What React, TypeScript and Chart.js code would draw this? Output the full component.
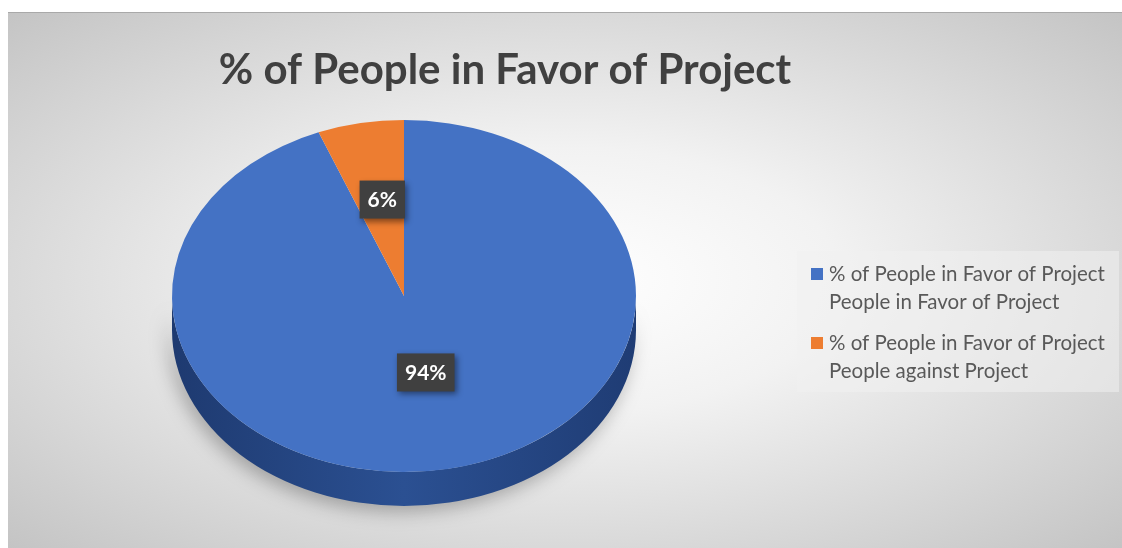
import React, { useEffect, useRef } from "react";
import { Chart, registerables } from "chart.js";

Chart.register(...registerables);

const seriesName = "% of People in Favor of Project";
const categories = ["People in Favor of Project", "People against Project"];
const values = [0.94, 0.06];
const sliceColors = ["#4472C4", "#ED7D31"];
const sideColors = [
  ["#1E3A70", "#2B5092", "#1F3C74"],
  ["#9C4A14", "#C0611F", "#9C4A14"],
];
const titleText = "% of People in Favor of Project";

const W = 1114;
const H = 536;
const SQUASH = 176 / 232;
const DEPTH = 34;

const piePlugin = {
  id: "pie3d",
  beforeDatasetsDraw(chart: any) {
    const ctx = chart.ctx;
    const meta = chart.getDatasetMeta(0);
    const arcs = meta.data;
    if (!arcs.length) return;
    const cx = arcs[0].x;
    const cy = arcs[0].y;
    ctx.save();
    ctx.translate(cx, cy);
    ctx.scale(1, SQUASH);
    ctx.translate(-cx, -cy);
    const d = DEPTH / SQUASH;
    arcs.forEach((arc: any, i: number) => {
      const r = arc.outerRadius;
      let a = arc.startAngle;
      let b = arc.endAngle;
      const TWO = Math.PI * 2;
      while (a < 0) { a += TWO; b += TWO; }
      while (a >= TWO) { a -= TWO; b -= TWO; }
      const ranges: [number, number][] = [];
      const push = (s: number, e: number) => {
        const s2 = Math.max(s, 0), e2 = Math.min(e, Math.PI);
        if (e2 > s2) ranges.push([s2, e2]);
      };
      push(a, b);
      push(a - TWO, b - TWO);
      push(a + TWO, b + TWO);
      ranges.forEach(([s, e]) => {
        ctx.save();
        const g = ctx.createLinearGradient(cx - r, 0, cx + r, 0);
        g.addColorStop(0, sideColors[i][0]);
        g.addColorStop(0.5, sideColors[i][1]);
        g.addColorStop(1, sideColors[i][2]);
        ctx.fillStyle = g;
        ctx.shadowColor = "rgba(0,0,0,0.28)";
        ctx.shadowBlur = 18;
        ctx.shadowOffsetX = -4;
        ctx.shadowOffsetY = 6;
        ctx.beginPath();
        ctx.arc(cx, cy + d, r, s, e);
        ctx.arc(cx, cy, r, e, s, true);
        ctx.closePath();
        ctx.fill();
        ctx.restore();
      });
    });
  },
  afterDatasetsDraw(chart: any) {
    const ctx = chart.ctx;
    ctx.restore();
    const meta = chart.getDatasetMeta(0);
    const arcs = meta.data;
    const total = values.reduce((s, v) => s + v, 0);
    arcs.forEach((arc: any, i: number) => {
      const p = arc.getCenterPoint();
      const x = p.x;
      const y = arc.y + (p.y - arc.y) * SQUASH - 10;
      const text = Math.round((values[i] / total) * 100) + "%";
      ctx.save();
      ctx.font = "bold 21px Lato";
      const tw = ctx.measureText(text).width;
      const bw = tw + 16;
      const bh = 38;
      ctx.shadowColor = "rgba(0,0,0,0.45)";
      ctx.shadowBlur = 6;
      ctx.shadowOffsetX = 2;
      ctx.shadowOffsetY = 3;
      ctx.fillStyle = "#404040";
      ctx.fillRect(x - bw / 2, y - bh / 2, bw, bh);
      ctx.shadowColor = "transparent";
      ctx.fillStyle = "#FFFFFF";
      ctx.textAlign = "center";
      ctx.textBaseline = "middle";
      ctx.fillText(text, x, y + 1);
      ctx.restore();
    });
  },
  afterDraw(chart: any) {
    const ctx = chart.ctx;
    ctx.save();
    // title
    ctx.font = "bold 42px Lato";
    ctx.fillStyle = "#404040";
    ctx.textAlign = "center";
    ctx.textBaseline = "alphabetic";
    ctx.fillText(titleText, 497, 72);
    // legend
    ctx.fillStyle = "rgba(240,240,240,0.55)";
    ctx.fillRect(789, 239, 322, 141);
    ctx.font = "20.5px Lato";
    ctx.textAlign = "left";
    categories.forEach((c, i) => {
      const top = 256 + i * 69;
      ctx.fillStyle = sliceColors[i];
      ctx.fillRect(803, top, 12, 12);
      ctx.fillStyle = "#595959";
      ctx.fillText(seriesName, 821, top + 13);
      ctx.fillText(c, 821, top + 41);
    });
    ctx.restore();
  },
};

export default function App() {
  const ref = useRef<HTMLCanvasElement>(null);
  useEffect(() => {
    document.body.style.margin = "0";
    const chart = new Chart(ref.current as HTMLCanvasElement, {
      type: "pie",
      data: {
        labels: categories,
        datasets: [
          {
            label: seriesName,
            data: values,
            backgroundColor: sliceColors,
            borderWidth: 0,
          },
        ],
      },
      options: {
        animation: false,
        responsive: true,
        maintainAspectRatio: false,
        events: [],
        layout: { padding: { left: 164, right: W - 628, top: 52, bottom: H - 516 } },
        plugins: {
          legend: { display: false },
          title: { display: false },
          tooltip: { enabled: false },
        },
      },
      plugins: [piePlugin],
    } as any);
    return () => chart.destroy();
  }, []);
  return (
    <div
      style={{
        position: "fixed",
        left: 8,
        top: 12,
        width: W,
        height: H,
        background:
          "radial-gradient(ellipse farthest-corner at 50% 50%, #ffffff 0%, #f2f2f2 35%, #c4c4c4 100%)",
        boxShadow: "inset 0 1px 0 #a9a9a9",
      }}
    >
      <canvas ref={ref} />
    </div>
  );
}
